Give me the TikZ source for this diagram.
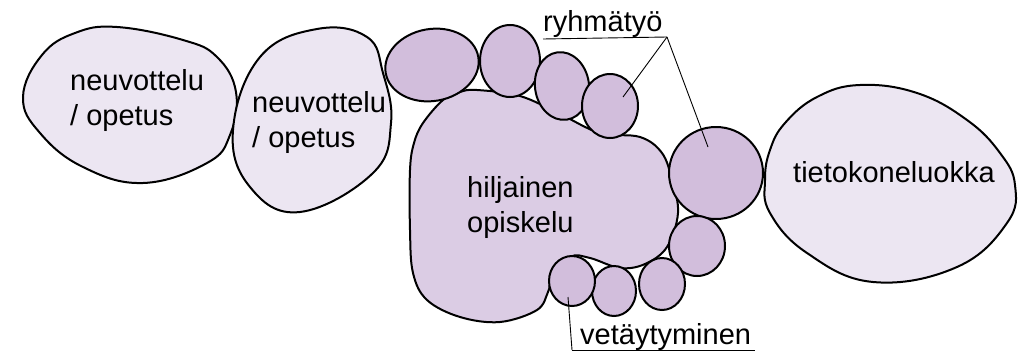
\documentclass[tikz,border=0pt]{standalone}
\usepackage{fontspec}
\setmainfont{Liberation Sans}
\usetikzlibrary{shapes.geometric,calc}
\definecolor{roomfill}{RGB}{236,230,242}
\definecolor{footfill}{RGB}{219,204,228}
\definecolor{toefill}{RGB}{210,190,220}
\tikzset{
  room/.style={draw=black, line width=2pt, fill=roomfill},
  foot/.style={draw=black, line width=2pt, fill=footfill},
  toe/.style={ellipse, draw=black, line width=2pt, fill=toefill, inner sep=0pt},
  lbl/.style={anchor=base west, inner sep=0pt, font=\fontsize{29}{35}\selectfont},
  leader/.style={draw=black, line width=0.9pt},
}
\begin{document}
\begin{tikzpicture}[x=1pt,y=-1pt]
\useasboundingbox (0,0) rectangle (1020,351);
% rooms
\draw[room] plot[smooth cycle, tension=0.7] coordinates {(23,97) (42,55) (75,33) (117,27) (183,40) (217,57) (236,92) (230,135) (207,163) (143,183) (83,167) (40,133)};
\draw[room] plot[smooth cycle, tension=0.7] coordinates {(233,130) (260,57) (317,29) (367,37) (383,73) (391,123) (373,173) (300,212) (250,187)};
\draw[room] plot[smooth cycle, tension=0.7] coordinates {(765,180) (770,150) (785,123) (817,97) (860,85) (917,93) (967,120) (1000,153) (1015,185) (1007,223) (957,267) (873,282) (807,253) (770,213)};
% foot
\draw[foot] plot[smooth cycle, tension=0.6] coordinates {(477,90) (520,96) (560,114) (600,133) (640,137) (662,153) (672,180) (678,213) (667,247) (645,264) (620,268) (590,258) (570,257) (552,280) (548,292) (537,310) (500,322) (460,317) (427,300) (413,273) (410,230) (410,170) (414,143) (423,123) (443,100) (460,92)};
% toes
\node[toe, minimum width=94pt, minimum height=72pt, rotate=10] (c1) at (432,65) {};
\node[toe, minimum width=60pt, minimum height=72pt] (c2) at (510,61) {};
\node[toe, minimum width=54pt, minimum height=68pt, rotate=8] (c3) at (562,86) {};
\node[toe, minimum width=56pt, minimum height=64pt] (c4) at (610,106) {};
\node[toe, minimum width=94pt, minimum height=92pt] (c5) at (716,173) {};
\node[toe, minimum width=56pt, minimum height=60pt] (c6) at (697,246) {};
\node[toe, minimum width=46pt, minimum height=52pt] (c7) at (662,284) {};
\node[toe, minimum width=44pt, minimum height=50pt] (c8) at (614,291) {};
\node[toe, minimum width=46pt, minimum height=50pt] (c9) at (572,281) {};
% texts
\node[lbl] (t1a) at (70,90) {neuvottelu};
\node[lbl] (t1b) at (70,125) {/ opetus};
\node[lbl] (t2a) at (252,112) {neuvottelu};
\node[lbl] (t2b) at (252,147) {/ opetus};
\node[lbl] (t3) at (793,182) {tietokoneluokka};
\node[lbl] (t4a) at (467,197) {hiljainen};
\node[lbl] (t4b) at (467,232) {opiskelu};
\node[lbl] (t5) at (543,31) {ryhmätyö};
\node[lbl] (t6) at (580,344) {vetäytyminen};
% leaders
\coordinate (r0) at (543,39);
\coordinate (r1) at (667,37);
\draw[leader] (r0) -- (r1);
\draw[leader] (r1) -- ($(c4.center)+(13,-9)$);
\draw[leader] (r1) -- ($(c5.center)+(-8,-26)$);
\coordinate (v0) at (572,350);
\coordinate (v1) at (755,350);
\draw[leader] (v0) -- (v1);
\draw[leader] (v0) -- ($(c9.center)+(-4,16)$);
\end{tikzpicture}
\end{document}
